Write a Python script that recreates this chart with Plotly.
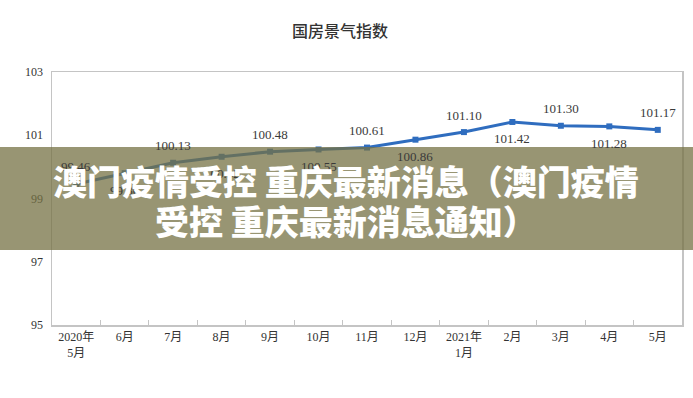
import plotly.graph_objects as go

categories = ["2020年<br>5月", "6月", "7月", "8月", "9月", "10月", "11月", "12月",
              "2021年<br>1月", "2月", "3月", "4月", "5月"]
values = [99.46, 99.80, 100.13, 100.32, 100.48, 100.55, 100.61, 100.86,
          101.10, 101.42, 101.30, 101.28, 101.17]
label_side = ["above", "below", "above", "below", "above", "below", "above", "below",
              "above", "below", "above", "below", "above"]
y_ticks = [95, 97, 99, 101, 103]
title_text = "国房景气指数"
banner_lines = ["澳门疫情受控 重庆最新消息（澳门疫情", "受控 重庆最新消息通知）"]

W, H = 693, 398
ml, mr, mt, mb = 52, 11, 72, 73
plot_w = W - ml - mr
plot_h = H - mt - mb


def px_to_paper_y(py):
    return (H - mb - py) / plot_h


def px_to_paper_x(px):
    return (px - ml) / plot_w


fig = go.Figure()
fig.add_trace(go.Scatter(
    x=categories, y=values, mode="lines+markers",
    line=dict(color="#2f6dbf", width=3),
    marker=dict(symbol="square", size=6, color="#2f6dbf"),
    hoverinfo="skip", showlegend=False,
))

annotations = []
for c, v, s in zip(categories, values, label_side):
    annotations.append(dict(
        x=c, y=v, xref="x", yref="y", text=f"{v:.2f}", showarrow=False,
        yshift=17 if s == "above" else -17,
        font=dict(family="Liberation Serif, Noto Sans CJK SC", size=13, color="#3a3a3a"),
    ))

annotations.append(dict(
    x=px_to_paper_x(340), y=px_to_paper_y(30), xref="paper", yref="paper",
    xanchor="center", yanchor="middle", text=title_text, showarrow=False,
    font=dict(family="Noto Sans CJK SC", size=16, color="#333333", weight=500),
))

# banner
b_top, b_bot = 147, 250
y1 = px_to_paper_y(b_top)
y0 = px_to_paper_y(b_bot)
for line, cy in zip(banner_lines, [180, 220]):
    annotations.append(dict(
        x=px_to_paper_x(346), y=px_to_paper_y(cy), xref="paper", yref="paper",
        xanchor="center", yanchor="middle", text=line, showarrow=False,
        font=dict(family="Noto Sans CJK SC", size=34, color="white", weight=900),
    ))

fig.update_layout(
    width=W, height=H,
    margin=dict(l=ml, r=mr, t=mt, b=mb, autoexpand=False),
    paper_bgcolor="white", plot_bgcolor="white",
    annotations=annotations,
    shapes=[dict(
        type="rect", xref="paper", yref="paper",
        x0=px_to_paper_x(0), x1=px_to_paper_x(W), y0=y0, y1=y1,
        fillcolor="rgba(118,114,68,0.75)", line=dict(width=0), layer="above",
    )],
    xaxis=dict(
        type="category", range=[-0.5, len(categories) - 0.5], automargin=False,
        showline=True, linecolor="#c4c4c4", linewidth=1.5, mirror=True,
        showgrid=False, zeroline=False, tickson="boundaries", ticks="inside", ticklen=5,
        tickcolor="#c4c4c4",
        tickfont=dict(family="Liberation Serif, Noto Sans CJK SC", size=12, color="#333333"),
    ),
    yaxis=dict(
        range=[95, 103], tickvals=y_ticks, automargin=False, showline=True,
        linecolor="#c4c4c4", linewidth=1.5, mirror=True, showgrid=False, zeroline=False,
        ticks="outside", ticklen=5, tickcolor="rgba(0,0,0,0)",
        tickfont=dict(family="Liberation Serif", size=12, color="#333333"),
    ),
)

fig.write_html(
    "out.html",
    config={"displayModeBar": False, "staticPlot": True},
    post_script="document.body.style.margin='0';document.body.style.overflow='hidden';",
)
